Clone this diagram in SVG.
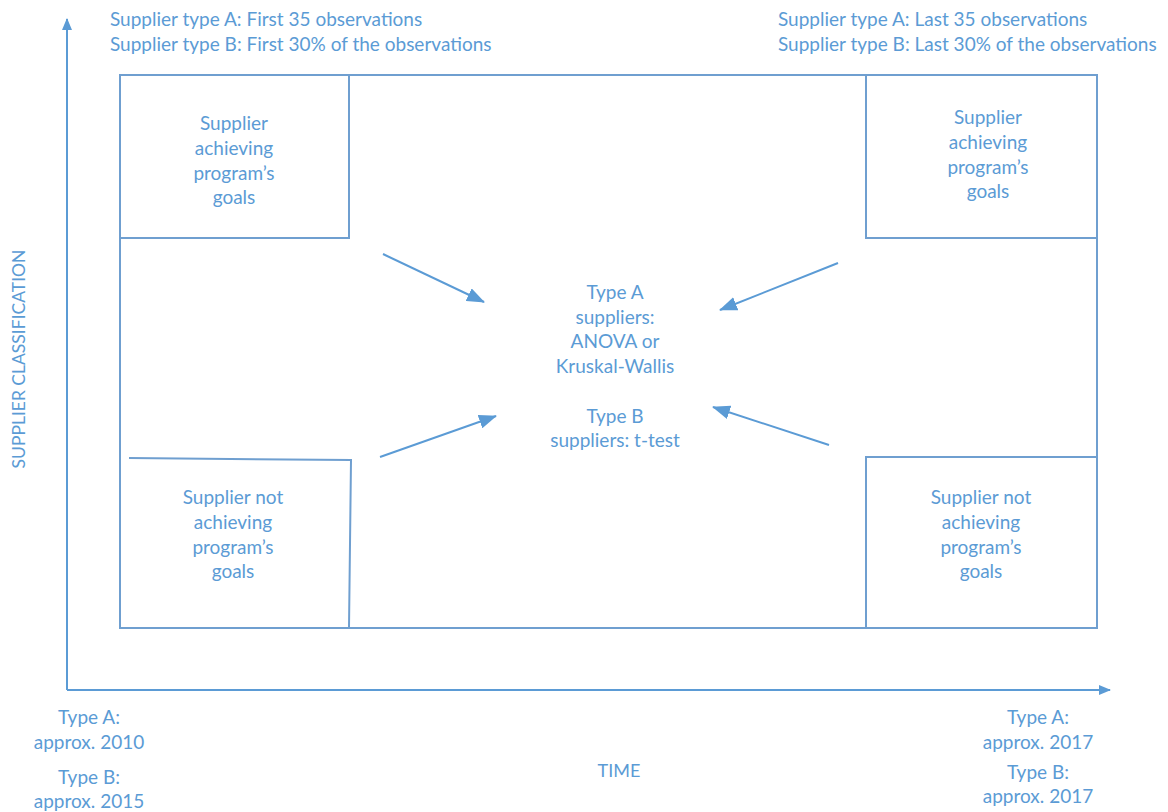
<svg xmlns="http://www.w3.org/2000/svg" width="1168" height="812" viewBox="0 0 1168 812">
  <defs>
    <style>
      .t { font-family: Lato, "Open Sans", "Liberation Sans", sans-serif; font-size: 19px; fill: #5b9bd5; }
      .c { text-anchor: middle; }
      .box { fill: none; stroke: #6f9fd0; stroke-width: 2; }
      .axis { fill: none; stroke: #5b9bd5; stroke-width: 2; }
      .arr { fill: none; stroke: #5b9bd5; stroke-width: 2; marker-end: url(#head); }
    </style>
    <marker id="head" markerWidth="18" markerHeight="14" refX="17" refY="7" orient="auto" markerUnits="userSpaceOnUse" viewBox="0 0 18 14">
      <path d="M0,0 L18,7 L0,14 Z" fill="#5b9bd5"/>
    </marker>
    <marker id="axhead" markerWidth="12" markerHeight="12" refX="11" refY="6" orient="auto" markerUnits="userSpaceOnUse" viewBox="0 0 12 12">
      <path d="M0,1 L12,6 L0,11 Z" fill="#5b9bd5"/>
    </marker>
  </defs>
  <rect width="1168" height="812" fill="#ffffff"/>

  <!-- axes -->
  <g id="axes">
    <line class="axis" x1="67" y1="690" x2="67" y2="19" marker-end="url(#axhead)"/>
    <line class="axis" x1="67" y1="690" x2="1110" y2="690" marker-end="url(#axhead)"/>
    <text class="t c" transform="translate(25,359) rotate(-90)" style="font-size:17.5px">SUPPLIER CLASSIFICATION</text>
    <text class="t c" x="619" y="777" style="font-size:18px">TIME</text>
  </g>

  <!-- period headers -->
  <g id="header-first">
    <text class="t" x="110" y="26">Supplier type A: First 35 observations</text>
    <text class="t" x="110" y="51">Supplier type B: First 30% of the observations</text>
  </g>
  <g id="header-last">
    <text class="t" x="778" y="26">Supplier type A: Last 35 observations</text>
    <text class="t" x="778" y="51">Supplier type B: Last 30% of the observations</text>
  </g>

  <!-- outer frame -->
  <g id="frame">
    <rect class="box" x="120" y="75" width="977" height="553"/>
  </g>

  <g id="first-achieving">
    <rect class="box" x="120" y="75" width="229" height="163"/>
    <text class="t c" x="234" y="130">Supplier</text>
    <text class="t c" x="234" y="155">achieving</text>
    <text class="t c" x="234" y="180">program’s</text>
    <text class="t c" x="234" y="204">goals</text>
  </g>

  <g id="last-achieving">
    <rect class="box" x="866" y="75" width="231" height="163"/>
    <text class="t c" x="988" y="124">Supplier</text>
    <text class="t c" x="988" y="149">achieving</text>
    <text class="t c" x="988" y="174">program’s</text>
    <text class="t c" x="988" y="198">goals</text>
  </g>

  <g id="first-not-achieving">
    <path class="box" d="M129,458 L351,460 L349,628"/>
    <text class="t c" x="233" y="504">Supplier not</text>
    <text class="t c" x="233" y="529">achieving</text>
    <text class="t c" x="233" y="554">program’s</text>
    <text class="t c" x="233" y="578">goals</text>
  </g>

  <g id="last-not-achieving">
    <rect class="box" x="866" y="457" width="231" height="171"/>
    <text class="t c" x="981" y="504">Supplier not</text>
    <text class="t c" x="981" y="529">achieving</text>
    <text class="t c" x="981" y="554">program’s</text>
    <text class="t c" x="981" y="578">goals</text>
  </g>

  <g id="tests">
    <text class="t c" x="615" y="299">Type A</text>
    <text class="t c" x="615" y="324">suppliers:</text>
    <text class="t c" x="615" y="348">ANOVA or</text>
    <text class="t c" x="615" y="373">Kruskal-Wallis</text>
    <text class="t c" x="615" y="423">Type B</text>
    <text class="t c" x="615" y="447">suppliers: t-test</text>
  </g>

  <!-- connectors -->
  <g id="connectors">
    <line class="arr" x1="383" y1="254" x2="484" y2="302"/>
    <line class="arr" x1="838" y1="263" x2="720" y2="310"/>
    <line class="arr" x1="380" y1="457" x2="496" y2="416"/>
    <line class="arr" x1="829" y1="445" x2="713" y2="407"/>
  </g>

  <!-- time labels -->
  <g id="start-dates">
    <text class="t c" x="89" y="724">Type A:</text>
    <text class="t c" x="89" y="749">approx. 2010</text>
    <text class="t c" x="89" y="784">Type B:</text>
    <text class="t c" x="89" y="808">approx. 2015</text>
  </g>
  <g id="end-dates">
    <text class="t c" x="1038" y="724">Type A:</text>
    <text class="t c" x="1038" y="749">approx. 2017</text>
    <text class="t c" x="1038" y="779">Type B:</text>
    <text class="t c" x="1038" y="803">approx. 2017</text>
  </g>
</svg>
